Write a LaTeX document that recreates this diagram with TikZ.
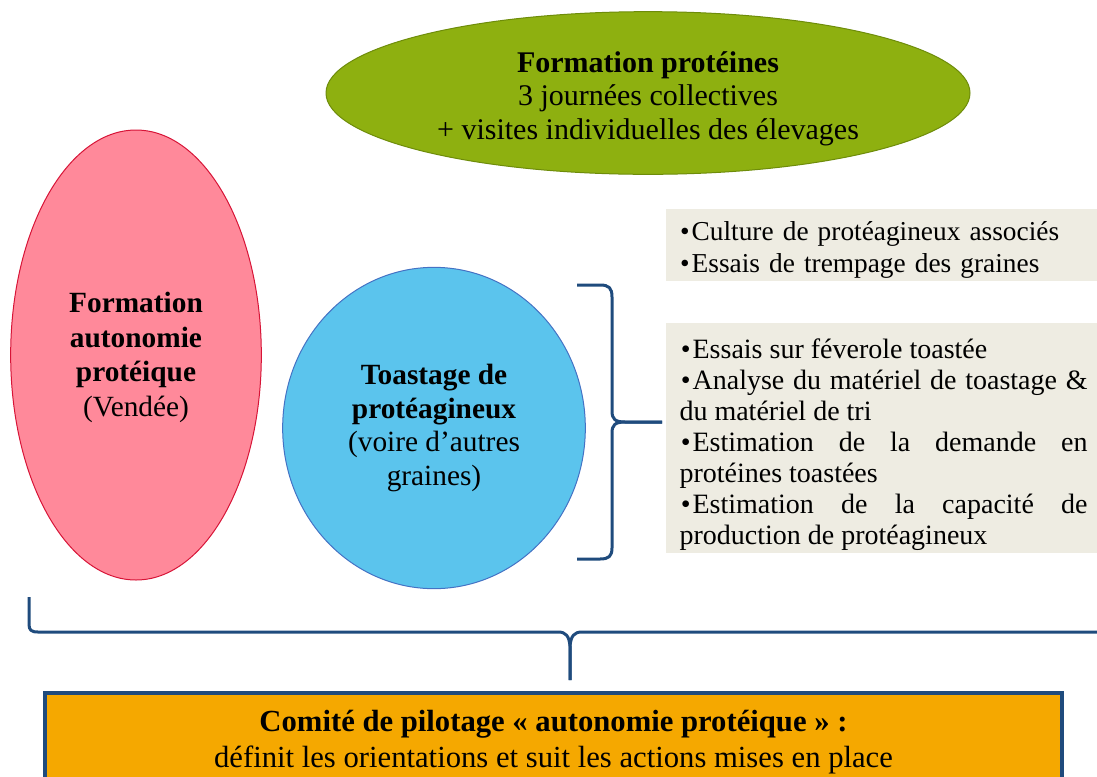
\documentclass[tikz,border=0pt]{standalone}
\usepackage{fontspec}
\setmainfont{Liberation Serif}
\usetikzlibrary{shapes.geometric}
\setlength{\parindent}{0pt}

\definecolor{vertform}{RGB}{142,176,16}
\definecolor{vertbord}{RGB}{110,140,10}
\definecolor{roseform}{RGB}{255,137,154}
\definecolor{rosebord}{RGB}{215,20,55}
\definecolor{bleutoast}{RGB}{91,196,237}
\definecolor{bleubord}{RGB}{68,114,196}
\definecolor{grisfond}{RGB}{238,236,226}
\definecolor{orangecom}{RGB}{245,168,0}
\definecolor{bleuacc}{RGB}{31,75,125}

\newcommand{\puce}{\textbullet\kern1.5pt}

\tikzset{every picture/.style={line width=0.75pt}}
\tikzset{
  bulle/.style={ellipse, inner sep=0pt, align=center},
  encadre/.style={rectangle, fill=grisfond, anchor=west, inner ysep=0pt,
    font=\fontsize{21}{23.3}\selectfont},
  accolade/.style={draw=bleuacc, line width=2.25pt, line join=round}
}

\begin{document}
\begin{tikzpicture}[x=0.75pt,y=0.75pt,yscale=-1,xscale=1]
\useasboundingbox (0,0) rectangle (1097,776);

%Ellipse formation proteines
\node [bulle, fill=vertform, draw=vertbord, minimum width=483pt, minimum height=122pt,
  font=\fontsize{22.5}{25}\selectfont] (formprot) at (648,93)
  {\rule{0pt}{24pt}\textbf{Formation protéines}\\3 journées collectives\\+ visites individuelles des élevages};

%Ellipse formation autonomie
\node [bulle, fill=roseform, draw=rosebord, minimum width=188pt, minimum height=337.5pt,
  font=\fontsize{22}{26}\selectfont] (formauto) at (136,355)
  {\rule{0pt}{19pt}\textbf{Formation}\\\textbf{autonomie}\\\textbf{protéique}\\(Vendée)};

%Ellipse toastage
\node [bulle, fill=bleutoast, draw=bleubord, minimum width=227pt, minimum height=241pt,
  font=\fontsize{22}{25.3}\selectfont] (toast) at (434,428)
  {\textbf{Toastage de}\\\textbf{protéagineux}\\(voire d’autres\\graines)};

%Encadre cultures
\node [encadre, minimum height=54pt, text width=310pt, inner xsep=11pt, align=left,
  font=\fontsize{20.5}{24}\selectfont] (cultures) at (665,245)
  {\rule{0pt}{21pt}\puce Culture de protéagineux associés\\\puce Essais de trempage des graines};

%Encadre essais
\node [encadre, minimum height=172.5pt, text width=306pt, inner xsep=10.5pt, align=justify] (essais) at (665,438)
  {\hspace*{1pt}\rule{0pt}{25pt}\puce Essais sur féverole toastée\par
   \hspace*{1pt}\puce Analyse du matériel de toastage \&\linebreak du matériel de tri\par
   \hspace*{1pt}\puce Estimation de la demande en\linebreak protéines toastées\par
   \hspace*{1pt}\puce Estimation de la capacité de\linebreak production de protéagineux\par};

%Comite de pilotage
\node [rectangle, fill=orangecom, draw=bleuacc, line width=2.6pt, minimum width=763pt, minimum height=73.5pt,
  align=center, font=\fontsize{23}{27}\selectfont] (comite) at (553.5,742)
  {\textbf{Comité de pilotage «~autonomie protéique~»~:}\\définit les orientations et suit les actions mises en place};

%Accolade droite
\coordinate (pointe) at (662,422);
\draw [accolade] (577,285) -- (600,285) .. controls (609,285) and (612,288) .. (612,297) -- (612,411)
  .. controls (612,419) and (615,422) .. (625,422) -- (pointe);
\draw [accolade] (pointe) -- (625,422) .. controls (615,422) and (612,425) .. (612,433) -- (612,548)
  .. controls (612,556) and (609,559) .. (600,559) -- (577,559);

%Accolade bas
\coordinate (bas) at (570,680);
\draw [accolade] (29,597) -- (29,624) .. controls (29,630) and (31,632) .. (38,632) -- (558,632)
  .. controls (566,632) and (569,636) .. (570,646) -- (bas);
\draw [accolade] (bas) -- (570,646) .. controls (571,636) and (574,632) .. (582,632) -- (1100,632);

\end{tikzpicture}
\end{document}
